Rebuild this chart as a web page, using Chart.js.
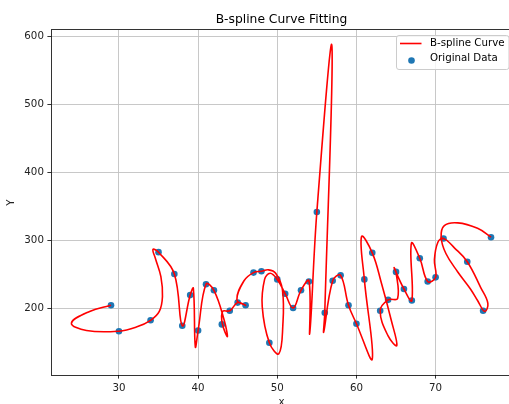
<!DOCTYPE html>
<html>
<head>
<meta charset="utf-8">
<title>B-spline Curve Fitting</title>
<script src="https://cdn.jsdelivr.net/npm/chart.js@4.4.1/dist/chart.umd.min.js"></script>
<style>
  html, body { margin: 0; padding: 0; background: #fff; }
  #wrap { width: 509px; height: 404px; overflow: hidden; }
  canvas { display: block; }
</style>
</head>
<body>
<div id="wrap"><canvas id="chart" width="516" height="412"></canvas></div>
<script>
// original data points
const xData = [29, 30, 34, 35, 37, 38, 39, 40, 41, 42, 43, 44, 45, 46, 47, 48, 49, 50, 51, 52, 53,
               54, 55, 56, 57, 58, 59, 60, 61, 62, 63, 64, 65, 66, 67, 68, 69, 70, 71, 74, 76, 77];
const yData = [205, 167, 183, 283, 251, 175, 220, 168, 236, 227, 177, 197, 209, 205, 253, 255, 150, 243, 222, 201, 227,
               240, 342, 194, 241, 249, 205, 178, 243, 282, 197, 213, 254, 229, 212, 274, 240, 246, 303, 269, 197, 305];

// fitted curve, vertices (loops, tips and peaks included)
const curveX = [29, 26.3, 24.0, 25.9, 30, 32.2, 34, 35.1, 35.5, 35.3, 34.6, 34.3, 35, 37, 38, 39, 39.4, 39.65, 40,
                41, 42, 43.3, 43.7, 43.06, 43.1, 44, 45, 46, 44.9, 45.8, 47, 48, 48.9, 49.8, 50.65, 50.7, 50.2,
                49, 48.1, 48.4, 49.1, 50, 51, 52, 53, 54, 54.1, 55, 56.9, 56, 55.87, 57, 58, 59, 60, 62.0, 61,
                60.65, 62, 63.17, 64.4, 65.1, 64.0, 63, 64, 65.2, 65, 64.76, 66, 67, 66.94, 68, 69, 70, 69.85,
                70.3, 71, 72.4, 74, 75.7, 76.6, 76.2, 75.3, 74.4, 72.8, 71.3, 70.7, 71.1, 72.8, 75.3, 77];
const curveY = [205, 196, 179, 168, 167, 173, 183, 196, 218, 247, 274, 287, 283, 251, 175, 220, 230, 144, 168,
                236, 227, 183, 159, 178, 196, 197, 209, 205, 213, 241, 253, 255, 257, 252, 228, 175, 134,
                150, 203, 243, 252, 243, 222, 201, 227, 241, 164, 342, 586, 194, 166, 241, 249, 205, 178, 126, 243,
                306, 282, 237, 183, 146, 160, 197, 213, 215, 254, 260, 229, 212, 296, 274, 240, 246, 272,
                298, 303, 289, 269, 231, 208, 196, 212, 229, 254, 281, 305, 322, 326, 318, 305];

const xTicks = [30, 40, 50, 60, 70];
const yTicks = [200, 300, 400, 500, 600];

const FONT = "'DejaVu Sans', sans-serif";
Chart.defaults.font.family = FONT;

// title over the axes, frame and legend in the upper right corner
const decorations = {
  id: 'decorations',
  afterDraw(chart) {
    const { ctx, chartArea: a } = chart;
    ctx.save();

    ctx.strokeStyle = 'rgba(0,0,0,0.8)';
    ctx.lineWidth = 1;
    ctx.strokeRect(a.left + 0.5, a.top - 0.5, a.right - a.left, a.bottom - a.top + 1);

    ctx.fillStyle = '#000';
    ctx.font = '12.3px ' + FONT;
    ctx.textAlign = 'center';
    ctx.textBaseline = 'middle';
    ctx.fillText('B-spline Curve Fitting', (a.left + a.right) / 2, 19.5);

    // legend
    ctx.beginPath();
    ctx.roundRect(396.5, 35.5, 112.5, 34, 2.5);
    ctx.fillStyle = 'rgba(255,255,255,0.8)';
    ctx.fill();
    ctx.strokeStyle = '#cccccc';
    ctx.stroke();

    ctx.beginPath();
    ctx.moveTo(400, 43.5);
    ctx.lineTo(421.5, 43.5);
    ctx.strokeStyle = '#ff0000';
    ctx.lineWidth = 1.6;
    ctx.stroke();

    ctx.beginPath();
    ctx.arc(411.5, 60.5, 3.3, 0, Math.PI * 2);
    ctx.fillStyle = '#1f77b4';
    ctx.fill();

    ctx.fillStyle = '#000';
    ctx.font = '10.25px ' + FONT;
    ctx.textAlign = 'left';
    ctx.fillText('B-spline Curve', 430, 43.5);
    ctx.fillText('Original Data', 430, 58.5);

    ctx.restore();
  }
};

new Chart(document.getElementById('chart'), {
  type: 'scatter',
  data: {
    datasets: [
      {
        label: 'B-spline Curve',
        data: curveX.map((x, i) => ({ x: x, y: curveY[i] })),
        showLine: true,
        tension: 0.4,
        borderColor: '#ff0000',
        borderWidth: 1.6,
        pointRadius: 0,
        fill: false
      },
      {
        label: 'Original Data',
        data: xData.map((x, i) => ({ x: x, y: yData[i] })),
        backgroundColor: '#1f77b4',
        borderWidth: 0,
        pointRadius: 3.3
      }
    ]
  },
  options: {
    responsive: false,
    animation: false,
    events: [],
    layout: { padding: { left: 0, right: 1.5, top: 30, bottom: 0 } },
    plugins: {
      legend: { display: false },
      tooltip: { enabled: false },
      title: { display: false }
    },
    scales: {
      x: {
        type: 'linear',
        min: 21.42,
        max: 79.65,
        afterBuildTicks: (s) => { s.ticks = xTicks.map(v => ({ value: v })); },
        afterFit: (s) => { s.height = 37; },
        grid: { color: '#c2c2c2', lineWidth: 0.9, tickColor: '#333', tickLength: 3.6, tickWidth: 1 },
        border: { display: false },
        ticks: { color: '#222', font: { size: 10.25 }, padding: 3.5, maxRotation: 0 },
        title: { display: true, text: 'x', color: '#222', font: { size: 10.25 }, padding: { top: 0, bottom: 3.3 } }
      },
      y: {
        type: 'linear',
        min: 102.7,
        max: 609.1,
        afterBuildTicks: (s) => { s.ticks = yTicks.map(v => ({ value: v })); },
        afterFit: (s) => { s.width = 51; },
        grid: { color: '#c2c2c2', lineWidth: 0.9, tickColor: '#333', tickLength: 3.6, tickWidth: 1 },
        border: { display: false },
        ticks: { color: '#222', font: { size: 10.25 }, padding: 3.5 },
        title: { display: true, text: 'Y', color: '#222', font: { size: 10.25 }, padding: { top: 5, bottom: 0 } }
      }
    }
  },
  plugins: [decorations]
});
</script>
</body>
</html>
